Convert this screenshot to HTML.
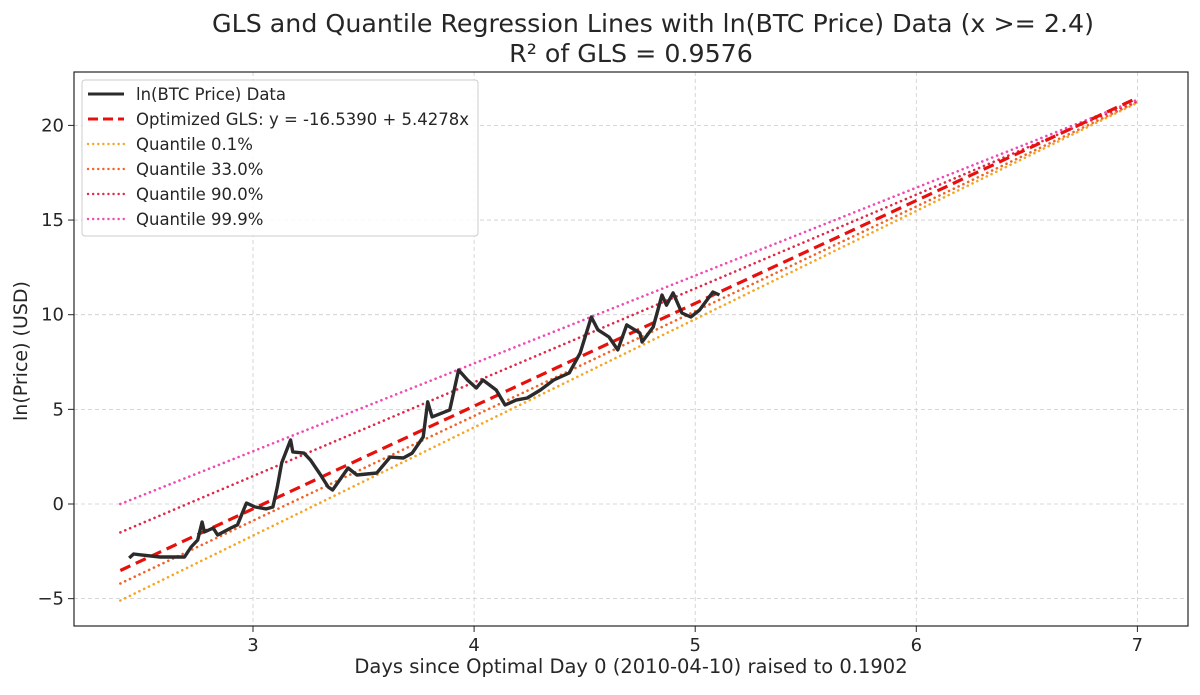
<!DOCTYPE html>
<html><head><meta charset="utf-8"><style>
body{margin:0;background:#fff}
svg text{font-family:"DejaVu Sans","Liberation Sans",sans-serif;fill:#262626}
</style></head><body>
<svg id="chart" width="1200" height="690" xmlns="http://www.w3.org/2000/svg">
<text x="653" y="32" font-size="25.3" text-anchor="middle">GLS and Quantile Regression Lines with ln(BTC Price) Data (x &gt;= 2.4)</text>
<text x="631" y="62" font-size="25.3" text-anchor="middle">R² of GLS = 0.9576</text>
<g id="grid"></g>
<g id="marks"></g>
<rect x="74" y="72" width="1114" height="554" fill="none" stroke="#262626" stroke-width="1.2"/>
<g id="ticks"></g>
<text x="631" y="673" font-size="19.5" text-anchor="middle">Days since Optimal Day 0 (2010-04-10) raised to 0.1902</text>
<text transform="translate(27,351) rotate(-90)" font-size="19" text-anchor="middle">ln(Price) (USD)</text>
<g id="legend">
<rect x="82" y="80" width="396" height="156" rx="3" fill="#fff" fill-opacity="0.85" stroke="#ccc"/>
</g>
</svg>
<script>
const xTicks=[3,4,5,6,7];
const yTicks=[-5,0,5,10,15,20];
const yTickLabels=["−5","0","5","10","15","20"];
const dataX=[2.44,2.46,2.50,2.58,2.69,2.72,2.75,2.77,2.78,2.82,2.84,2.90,2.93,2.97,3.01,3.06,3.09,3.11,3.13,3.17,3.18,3.23,3.26,3.30,3.34,3.36,3.43,3.47,3.56,3.62,3.68,3.72,3.77,3.79,3.81,3.89,3.93,3.97,4.01,4.04,4.10,4.14,4.19,4.24,4.30,4.36,4.43,4.48,4.53,4.56,4.61,4.65,4.69,4.75,4.76,4.81,4.85,4.87,4.90,4.94,4.98,5.02,5.08,5.11];
const dataY=[-2.85,-2.64,-2.7,-2.8,-2.8,-2.27,-1.9,-0.95,-1.48,-1.27,-1.64,-1.27,-1.1,0.05,-0.16,-0.26,-0.16,0.9,2.17,3.38,2.75,2.69,2.32,1.64,0.9,0.74,1.9,1.53,1.64,2.48,2.43,2.69,3.54,5.4,4.6,4.97,7.08,6.55,6.13,6.55,6.02,5.23,5.49,5.6,6.02,6.55,6.92,7.98,9.88,9.2,8.82,8.14,9.46,9.03,8.56,9.35,11.04,10.5,11.15,10.09,9.88,10.25,11.2,11.04];
const glsIntercept=-16.539, glsSlope=5.4278;
const quantNames=["Quantile 0.1%","Quantile 33.0%","Quantile 90.0%","Quantile 99.9%"];
const quantStart=[-5.1,-4.2,-1.5,0.0];
const quantEnd=[21.2,21.25,21.3,21.35];
const quantColors=["#f5a623","#f0642a","#e0284a","#f04ab4"];
const xRange=[2.4,7];

const X=v=>253+(v-3)*221.1;
const Y=v=>504-v*18.93;
const NS="http://www.w3.org/2000/svg";
function mk(tag,attrs,parent){const e=document.createElementNS(NS,tag);for(const k in attrs)e.setAttribute(k,attrs[k]);parent.appendChild(e);return e;}
const grid=document.getElementById('grid'),marks=document.getElementById('marks'),ticks=document.getElementById('ticks'),legend=document.getElementById('legend');
xTicks.forEach(t=>{
  const g=mk('line',{x1:X(t),x2:X(t),y1:72,y2:626,stroke:'#ccc','stroke-dasharray':'4,3','stroke-width':0.8},grid);
  
  
  const tk=mk('line',{x1:X(t),x2:X(t),y1:626,y2:632,stroke:'#262626'},ticks);
  
  
  const tx=mk('text',{x:X(t),y:651,'font-size':18,'text-anchor':'middle'},ticks);tx.textContent=t;
  
  
});
yTicks.forEach((t,i)=>{
  const g=mk('line',{x1:74,x2:1188,y1:Y(t),y2:Y(t),stroke:'#ccc','stroke-dasharray':'4,3','stroke-width':0.8},grid);
  
  
  const tk=mk('line',{x1:68,x2:74,y1:Y(t),y2:Y(t),stroke:'#262626'},ticks);
  
  
  const tx=mk('text',{x:64,y:Y(t)+6,'font-size':18,'text-anchor':'end'},ticks);tx.textContent=yTickLabels[i];
  
  
});
quantStart.forEach((s,i)=>{
  const l=mk('line',{x1:X(xRange[0]),y1:Y(s),x2:X(xRange[1]),y2:Y(quantEnd[i]),stroke:quantColors[i],'stroke-width':2.6,'stroke-dasharray':'0.1,5.2','stroke-linecap':'round'},marks);
  
  
});
const gl=mk('line',{x1:X(xRange[0]),y1:Y(glsIntercept+glsSlope*xRange[0]),x2:X(xRange[1]),y2:Y(glsIntercept+glsSlope*xRange[1]),stroke:'#e8100c','stroke-width':3.2,'stroke-dasharray':'11,6'},marks);


const pd=dataX.map((x,i)=>(i?'L':'M')+X(x).toFixed(1)+','+Y(dataY[i]).toFixed(1)).join('');
const dl=mk('path',{d:pd,fill:'none',stroke:'#2b2b2b','stroke-width':3.4,'stroke-linejoin':'round'},marks);


const legItems=[["ln(BTC Price) Data","#2b2b2b","",3],["Optimized GLS: y = -16.5390 + 5.4278x","#e8100c","10,5",3]].concat(quantNames.map((n,i)=>[n,quantColors[i],"0.1,5",2.4]));
legItems.forEach((it,i)=>{
  const y=94+i*25;
  const l=mk('line',{x1:88,x2:124,y1:y,y2:y,stroke:it[1],'stroke-width':it[3],'stroke-dasharray':it[2],'stroke-linecap':it[2].startsWith('0.1')?'round':'butt'},legend);
  
  
  const t=mk('text',{x:136,y:y+6,'font-size':16.5},legend);t.textContent=it[0];
  
  
});
</script>
</body></html>
